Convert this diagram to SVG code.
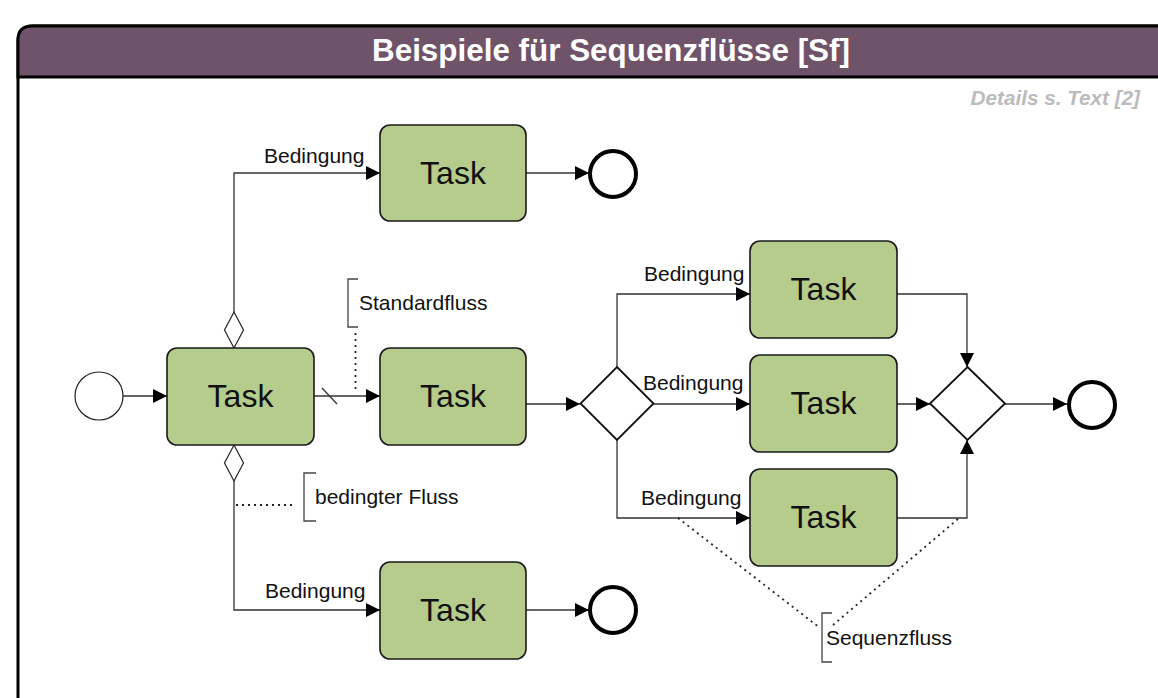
<svg xmlns="http://www.w3.org/2000/svg" width="1158" height="698" viewBox="0 0 1158 698">
  <defs>
    <marker id="arrow" viewBox="0 0 14 14" refX="14" refY="7" markerWidth="14" markerHeight="14" markerUnits="userSpaceOnUse" orient="auto">
      <path d="M0,0 L14,7 L0,14 Z" fill="#000"/>
    </marker>
    <style>
      .flow { fill: none; stroke: #333; stroke-width: 1.3; }
      .dot { fill: none; stroke: #222; stroke-width: 1.8; stroke-dasharray: 2 4; }
      .bracket { fill: none; stroke: #444; stroke-width: 1.3; }
      .task rect { fill: #b5cc8c; stroke: #1a1a1a; stroke-width: 1.6; }
      .task text { font-family: "Liberation Sans", Arial, sans-serif; font-size: 32px; fill: #111; text-anchor: middle; }
      .lbl { font-family: "Liberation Sans", Arial, sans-serif; font-size: 21px; fill: #111; }
      .gw { fill: #fff; stroke: #111; stroke-width: 1.8; }
      .start { fill: #fff; stroke: #222; stroke-width: 1.2; }
      .end { fill: #fff; stroke: #000; stroke-width: 4; }
      .cond { fill: #fff; stroke: #222; stroke-width: 1.2; }
    </style>
  </defs>

  <!-- frame -->
  <g id="frame">
    <rect x="18" y="26" width="1160" height="700" rx="14" fill="#fff" stroke="#000" stroke-width="3"/>
    <path d="M18,77 L18,40 Q18,26 32,26 L1178,26 L1178,77 Z" fill="#6f5369" stroke="#000" stroke-width="3"/>
    <text x="611" y="61" font-family="Liberation Sans, Arial, sans-serif" font-size="31.4" font-weight="bold" fill="#fff" text-anchor="middle">Beispiele für Sequenzflüsse [Sf]</text>
    <text x="1140" y="105" font-family="Liberation Sans, Arial, sans-serif" font-size="20.7" font-weight="bold" font-style="italic" fill="#bbb" text-anchor="end">Details s. Text [2]</text>
  </g>

  <!-- connectors -->
  <g id="connectors">
    <path class="flow" d="M123,396 L167,396" marker-end="url(#arrow)"/>
    <path class="flow" d="M314,396 L380,396" marker-end="url(#arrow)"/>
    <path class="flow" d="M322,388 L337,404"/>
    <path class="flow" d="M234,312 L234,173 L380,173" marker-end="url(#arrow)"/>
    <path class="flow" d="M234,481 L234,610 L380,610" marker-end="url(#arrow)"/>
    <path class="flow" d="M526,173 L589,173" marker-end="url(#arrow)"/>
    <path class="flow" d="M526,610 L589,610" marker-end="url(#arrow)"/>
    <path class="flow" d="M526,404 L580,404" marker-end="url(#arrow)"/>
    <path class="flow" d="M617,367 L617,294 L750,294" marker-end="url(#arrow)"/>
    <path class="flow" d="M653,404 L750,404" marker-end="url(#arrow)"/>
    <path class="flow" d="M617,440 L617,518 L750,518" marker-end="url(#arrow)"/>
    <path class="flow" d="M897,294 L967,294 L967,367" marker-end="url(#arrow)"/>
    <path class="flow" d="M897,404 L930,404" marker-end="url(#arrow)"/>
    <path class="flow" d="M897,518 L967,518 L967,440" marker-end="url(#arrow)"/>
    <path class="flow" d="M1005,404 L1067,404" marker-end="url(#arrow)"/>

    <text class="lbl" x="264" y="163">Bedingung</text>
    <text class="lbl" x="265" y="598">Bedingung</text>
    <text class="lbl" x="644" y="281">Bedingung</text>
    <text class="lbl" x="643" y="390">Bedingung</text>
    <text class="lbl" x="641" y="505">Bedingung</text>
  </g>

  <!-- conditional flow markers -->
  <g id="cond-markers">
    <path class="cond" d="M234,312 L243.5,330 L234,348 L224.5,330 Z"/>
    <path class="cond" d="M234,445 L243.5,463 L234,481 L224.5,463 Z"/>
  </g>

  <!-- events -->
  <g id="start"><circle class="start" cx="99" cy="396" r="24"/></g>
  <g id="end-top"><circle class="end" cx="613" cy="174" r="23"/></g>
  <g id="end-right"><circle class="end" cx="1092" cy="405" r="23"/></g>
  <g id="end-bottom"><circle class="end" cx="613" cy="610" r="23"/></g>

  <!-- tasks -->
  <g id="task-main" class="task"><rect x="167" y="348" width="147" height="97" rx="10"/><text x="240.5" y="407">Task</text></g>
  <g id="task-top" class="task"><rect x="380" y="125" width="146" height="96" rx="10"/><text x="453" y="184">Task</text></g>
  <g id="task-mid" class="task"><rect x="380" y="348" width="146" height="97" rx="10"/><text x="453" y="407">Task</text></g>
  <g id="task-bottom" class="task"><rect x="380" y="562" width="146" height="97" rx="10"/><text x="453" y="621">Task</text></g>
  <g id="task-r1" class="task"><rect x="750" y="241" width="147" height="97" rx="10"/><text x="823.5" y="300">Task</text></g>
  <g id="task-r2" class="task"><rect x="750" y="355" width="147" height="97" rx="10"/><text x="823.5" y="414">Task</text></g>
  <g id="task-r3" class="task"><rect x="750" y="469" width="147" height="97" rx="10"/><text x="823.5" y="528">Task</text></g>

  <!-- gateways -->
  <g id="gateway-split"><path class="gw" d="M617,367 L653.5,403.5 L617,440 L580.5,403.5 Z"/></g>
  <g id="gateway-join"><path class="gw" d="M967.5,367 L1005,403.5 L967.5,440 L930,403.5 Z"/></g>

  <!-- annotations -->
  <g id="note-standard">
    <path class="bracket" d="M358,279 L348,279 L348,327 L358,327"/>
    <text class="lbl" x="359" y="310">Standardfluss</text>
    <path class="dot" d="M355.5,333 L355.5,390"/>
  </g>
  <g id="note-conditional">
    <path class="bracket" d="M316,473 L304,473 L304,521 L316,521"/>
    <text class="lbl" x="315" y="504">bedingter Fluss</text>
    <path class="dot" d="M236,505 L296,505"/>
  </g>
  <g id="note-sequence">
    <path class="bracket" d="M832,613 L822,613 L822,662 L832,662"/>
    <text class="lbl" x="826" y="645">Sequenzfluss</text>
    <path class="dot" d="M678,518 L820,628"/>
    <path class="dot" d="M958,519 L833,625"/>
  </g>
</svg>
